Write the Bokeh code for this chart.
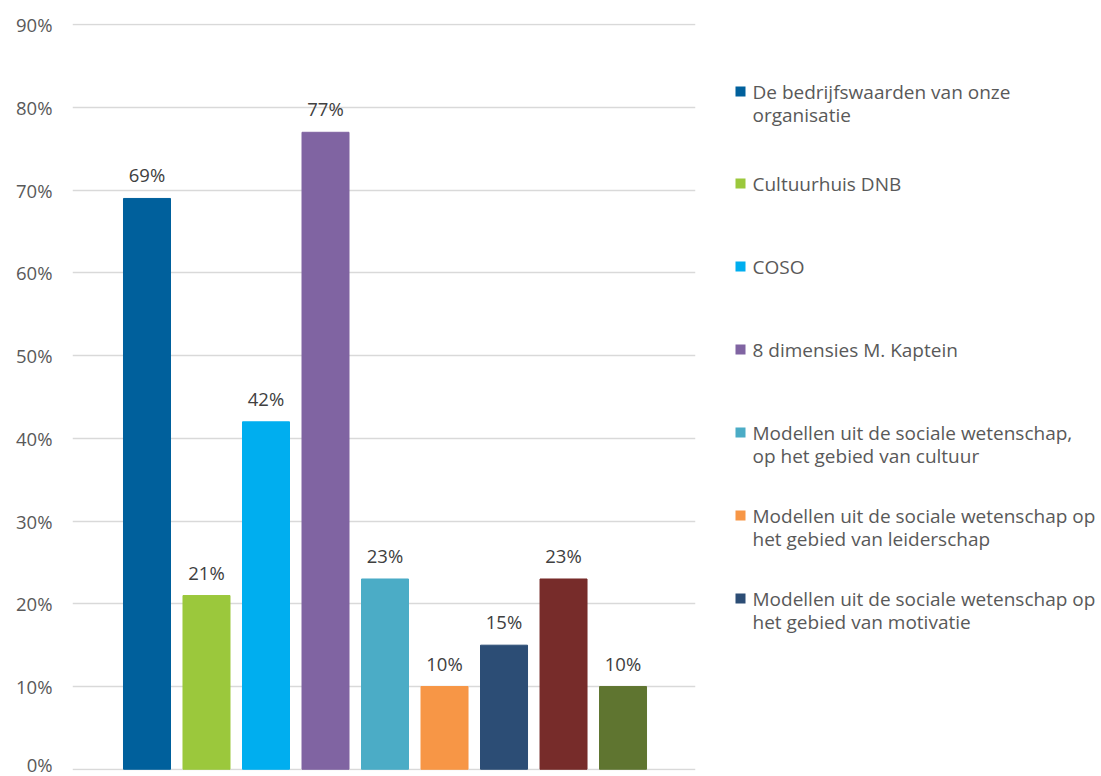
from bokeh.plotting import figure
from bokeh.layouts import row
from bokeh.models import (ColumnDataSource, Range1d, FixedTicker, NumeralTickFormatter,
                          LabelSet)
from bokeh.core.properties import value
from bokeh.embed import file_html
from bokeh.resources import INLINE

# ---- data ----
categories = [
    "De bedrijfswaarden van onze organisatie",
    "Cultuurhuis DNB",
    "COSO",
    "8 dimensies M. Kaptein",
    "Modellen uit de sociale wetenschap, op het gebied van cultuur",
    "Modellen uit de sociale wetenschap op het gebied van leiderschap",
    "Modellen uit de sociale wetenschap op het gebied van motivatie",
    "Categorie 8",
    "Categorie 9",
]
values = [0.69, 0.21, 0.42, 0.77, 0.23, 0.10, 0.15, 0.23, 0.10]
colors = ["#00609C", "#9BC83C", "#00AEEF", "#8064A2", "#4BACC6",
          "#F79646", "#2C4D75", "#772C2A", "#5F7530"]
y_ticks = [0, 0.1, 0.2, 0.3, 0.4, 0.5, 0.6, 0.7, 0.8, 0.9]

# legend (only the first seven entries are visible), wrapped as in the picture
legend_lines = [
    ["De bedrijfswaarden van onze", "organisatie"],
    ["Cultuurhuis DNB"],
    ["COSO"],
    ["8 dimensies M. Kaptein"],
    ["Modellen uit de sociale wetenschap,", "op het gebied van cultuur"],
    ["Modellen uit de sociale wetenschap op", "het gebied van leiderschap"],
    ["Modellen uit de sociale wetenschap op", "het gebied van motivatie"],
]

FONT = "Open Sans"
TXT = "#595959"
FS_NUM = "18.5px"
FS_LEG = "19px"

xs = list(range(len(values)))
labels = [f"{round(v * 100)}%" for v in values]
src = ColumnDataSource(dict(x=xs, top=values, color=colors, label=labels))

H = 776
MAIN_W = 700
LEG_W = 401
FL, FR, FT, FB = 72, 695, 24, 769  # frame edges in canvas px
BT, BB = FT - 1, H - FB - 1         # borders top / bottom

p = figure(width=MAIN_W, height=H, output_backend="svg", toolbar_location=None,
           x_range=Range1d(-1.252, 9.218), y_range=Range1d(-0.0015, 0.9015),
           x_axis_location=None,
           min_border_left=FL, min_border_right=MAIN_W - FR,
           min_border_top=BT, min_border_bottom=BB)
p.outline_line_color = None
p.background_fill_color = "white"
p.border_fill_color = "white"

p.vbar(x="x", top="top", width=0.79, bottom=0, color="color", source=src)

ax = p.yaxis[0]
ax.ticker = FixedTicker(ticks=y_ticks)
ax.formatter = NumeralTickFormatter(format="0%")
ax.axis_line_color = None
ax.major_tick_line_color = None
ax.minor_tick_line_color = None
ax.major_tick_out = 0
ax.major_label_standoff = 20
ax.major_label_text_font = FONT
ax.major_label_text_font_size = FS_NUM
ax.major_label_text_color = TXT

p.xgrid.grid_line_color = None
p.ygrid.ticker = FixedTicker(ticks=y_ticks)
p.ygrid.grid_line_color = "#d9d9d9"
p.ygrid.grid_line_width = 1.5

p.add_layout(LabelSet(x="x", y="top", text="label", source=src,
                      text_align="center", text_baseline="alphabetic",
                      y_offset=16, text_font=value(FONT), text_font_size=value(FS_NUM),
                      text_color="#404040"))

# ---- legend panel (coordinates in page pixels, y downward) ----
lg = figure(width=LEG_W, height=H, output_backend="svg", toolbar_location=None,
            x_range=Range1d(MAIN_W, MAIN_W + LEG_W), y_range=Range1d(H - BB, BT),
            x_axis_location=None, y_axis_location=None,
            min_border_left=0, min_border_right=0,
            min_border_top=BT, min_border_bottom=BB)
lg.outline_line_color = None
lg.grid.visible = False
lg.background_fill_color = "white"
lg.border_fill_color = "white"

first_line_y = [91, 183, 266, 349, 432, 515, 598]
line_gap = 23
sq_x, sq_y, sq_c = [], [], []
tx, ty, tt = [], [], []
for i, lines in enumerate(legend_lines):
    sq_x.append(740)
    sq_y.append(first_line_y[i])
    sq_c.append(colors[i])
    for j, t in enumerate(lines):
        tx.append(752)
        ty.append(first_line_y[i] + j * line_gap)
        tt.append(t)

lg.rect(x=sq_x, y=sq_y, width=10, height=10, width_units="screen",
        height_units="screen", fill_color=sq_c, line_color=None)
lg.text(x=tx, y=ty, text=tt, text_font=value(FONT), text_font_size=value(FS_LEG),
        text_color=TXT, text_baseline="middle", text_align="left")

layout = row(p, lg, spacing=0)
open("out.html", "w").write(file_html(layout, INLINE))
